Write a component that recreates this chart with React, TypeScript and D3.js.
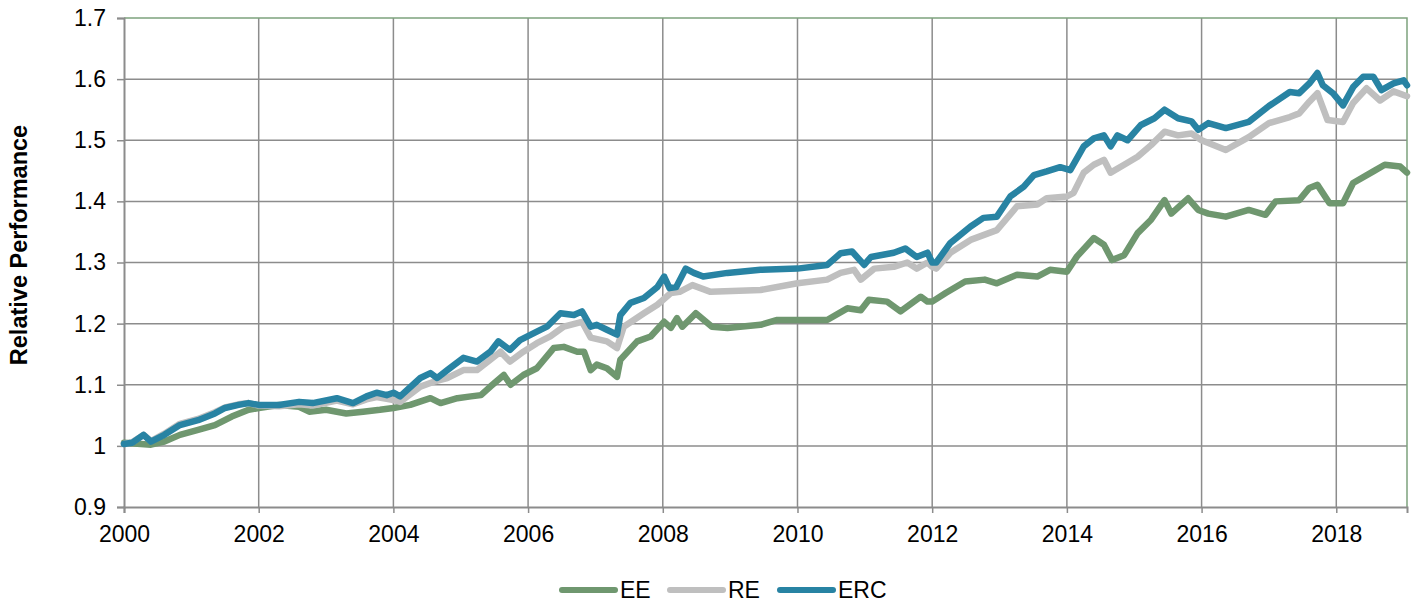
import { useEffect, useRef } from 'react';
import * as d3 from 'd3';

// Relative performance of three allocation schemes
const eeSeries: [number, number][] = [
  [2000.0, 1.005], [2000.4, 1.002], [2000.6, 1.007], [2000.83, 1.018], [2001.1, 1.026],
  [2001.35, 1.034], [2001.6, 1.048], [2001.85, 1.059], [2002.0, 1.062], [2002.3, 1.067],
  [2002.6, 1.064], [2002.75, 1.056], [2003.0, 1.059], [2003.3, 1.053], [2003.55, 1.056],
  [2003.8, 1.059], [2004.0, 1.062], [2004.25, 1.067], [2004.55, 1.078], [2004.7, 1.07],
  [2004.95, 1.078], [2005.15, 1.081], [2005.3, 1.083], [2005.44, 1.097], [2005.64, 1.116],
  [2005.74, 1.1], [2005.93, 1.116], [2006.13, 1.127], [2006.38, 1.16], [2006.53, 1.162],
  [2006.73, 1.154], [2006.83, 1.154], [2006.93, 1.124], [2007.02, 1.133], [2007.17, 1.127],
  [2007.32, 1.113], [2007.37, 1.141], [2007.62, 1.171], [2007.82, 1.179], [2008.02, 1.203],
  [2008.12, 1.193], [2008.21, 1.209], [2008.29, 1.195], [2008.49, 1.217], [2008.73, 1.195],
  [2008.96, 1.193], [2009.45, 1.198], [2009.7, 1.206], [2010.0, 1.206], [2010.44, 1.206],
  [2010.74, 1.225], [2010.94, 1.222], [2011.06, 1.239], [2011.33, 1.236], [2011.53, 1.22],
  [2011.83, 1.244], [2011.93, 1.236], [2012.0, 1.236], [2012.2, 1.25], [2012.49, 1.269],
  [2012.78, 1.272], [2012.96, 1.266], [2013.26, 1.28], [2013.56, 1.277], [2013.75, 1.288],
  [2014.0, 1.285], [2014.15, 1.31], [2014.4, 1.34], [2014.55, 1.329], [2014.67, 1.304],
  [2014.85, 1.312], [2015.05, 1.348], [2015.25, 1.37], [2015.45, 1.402], [2015.55, 1.38],
  [2015.8, 1.405], [2015.95, 1.386], [2016.1, 1.38], [2016.36, 1.375], [2016.7, 1.386],
  [2016.95, 1.378], [2017.1, 1.4], [2017.45, 1.402], [2017.6, 1.422], [2017.72, 1.427],
  [2017.9, 1.397], [2018.1, 1.397], [2018.25, 1.43], [2018.55, 1.449], [2018.72, 1.46],
  [2018.95, 1.457], [2019.05, 1.447],
];

const reSeries: [number, number][] = [
  [2000.0, 1.003], [2000.12, 1.006], [2000.29, 1.018], [2000.4, 1.008], [2000.6, 1.02],
  [2000.83, 1.036], [2001.1, 1.044], [2001.35, 1.055], [2001.5, 1.063], [2001.7, 1.068],
  [2001.85, 1.07], [2002.0, 1.066], [2002.3, 1.065], [2002.6, 1.068], [2002.8, 1.066],
  [2003.16, 1.074], [2003.4, 1.068], [2003.6, 1.076], [2003.75, 1.08], [2003.9, 1.077],
  [2004.0, 1.075], [2004.1, 1.072], [2004.4, 1.097], [2004.6, 1.105], [2004.8, 1.111],
  [2005.04, 1.124], [2005.24, 1.124], [2005.44, 1.141], [2005.59, 1.154], [2005.73, 1.138],
  [2005.93, 1.154], [2006.13, 1.168], [2006.33, 1.179], [2006.53, 1.195], [2006.8, 1.203],
  [2006.93, 1.177], [2007.17, 1.171], [2007.32, 1.16], [2007.42, 1.195], [2007.72, 1.217],
  [2007.92, 1.231], [2008.12, 1.25], [2008.25, 1.252], [2008.44, 1.263], [2008.71, 1.252],
  [2009.45, 1.255], [2010.0, 1.266], [2010.44, 1.272], [2010.64, 1.283], [2010.84, 1.288],
  [2010.94, 1.272], [2011.14, 1.29], [2011.43, 1.293], [2011.63, 1.3], [2011.77, 1.29],
  [2011.93, 1.3], [2012.0, 1.293], [2012.06, 1.29], [2012.27, 1.316], [2012.57, 1.337],
  [2012.96, 1.353], [2013.26, 1.392], [2013.56, 1.395], [2013.7, 1.405], [2014.0, 1.408],
  [2014.1, 1.414], [2014.25, 1.447], [2014.4, 1.46], [2014.55, 1.468], [2014.65, 1.447],
  [2014.85, 1.46], [2015.05, 1.473], [2015.25, 1.492], [2015.45, 1.514], [2015.65, 1.508],
  [2015.85, 1.511], [2016.0, 1.5], [2016.36, 1.484], [2016.7, 1.505], [2017.0, 1.528],
  [2017.31, 1.538], [2017.45, 1.544], [2017.6, 1.563], [2017.72, 1.577], [2017.87, 1.533],
  [2018.1, 1.53], [2018.25, 1.561], [2018.45, 1.585], [2018.65, 1.565], [2018.85, 1.58],
  [2019.05, 1.572],
];

const ercSeries: [number, number][] = [
  [2000.0, 1.003], [2000.12, 1.005], [2000.29, 1.018], [2000.4, 1.007], [2000.6, 1.018],
  [2000.83, 1.034], [2001.1, 1.042], [2001.35, 1.053], [2001.5, 1.062], [2001.7, 1.067],
  [2001.85, 1.07], [2002.0, 1.067], [2002.3, 1.067], [2002.6, 1.072], [2002.8, 1.07],
  [2003.16, 1.078], [2003.4, 1.07], [2003.6, 1.081], [2003.75, 1.087], [2003.9, 1.083],
  [2004.0, 1.087], [2004.1, 1.081], [2004.4, 1.111], [2004.55, 1.119], [2004.65, 1.111],
  [2004.8, 1.124], [2005.04, 1.144], [2005.24, 1.138], [2005.44, 1.154], [2005.56, 1.171],
  [2005.73, 1.157], [2005.88, 1.173], [2006.13, 1.187], [2006.28, 1.195], [2006.48, 1.217],
  [2006.68, 1.214], [2006.8, 1.22], [2006.93, 1.195], [2007.02, 1.198], [2007.17, 1.19],
  [2007.32, 1.182], [2007.37, 1.214], [2007.52, 1.234], [2007.72, 1.242], [2007.92, 1.26],
  [2008.02, 1.277], [2008.1, 1.258], [2008.2, 1.26], [2008.34, 1.29], [2008.46, 1.283],
  [2008.6, 1.277], [2008.96, 1.283], [2009.45, 1.288], [2010.0, 1.29], [2010.44, 1.296],
  [2010.64, 1.315], [2010.81, 1.318], [2010.99, 1.296], [2011.09, 1.309], [2011.43, 1.316],
  [2011.6, 1.323], [2011.77, 1.309], [2011.93, 1.316], [2012.0, 1.3], [2012.06, 1.3],
  [2012.27, 1.332], [2012.57, 1.359], [2012.76, 1.373], [2012.96, 1.375], [2013.16, 1.408],
  [2013.36, 1.424], [2013.51, 1.443], [2013.7, 1.449], [2013.9, 1.456], [2014.05, 1.451],
  [2014.25, 1.49], [2014.4, 1.503], [2014.55, 1.508], [2014.65, 1.49], [2014.75, 1.508],
  [2014.9, 1.5], [2015.1, 1.525], [2015.3, 1.536], [2015.45, 1.55], [2015.65, 1.536],
  [2015.85, 1.531], [2015.95, 1.517], [2016.1, 1.528], [2016.36, 1.52], [2016.7, 1.53],
  [2017.0, 1.556], [2017.31, 1.579], [2017.45, 1.577], [2017.6, 1.593], [2017.72, 1.61],
  [2017.8, 1.59], [2017.95, 1.577], [2018.1, 1.557], [2018.25, 1.587], [2018.4, 1.604],
  [2018.55, 1.604], [2018.67, 1.582], [2018.85, 1.593], [2019.0, 1.598], [2019.05, 1.59],
];

const seriesNames = ['EE', 'RE', 'ERC'];
const seriesColors = ['#6f976f', '#bfbfbf', '#2883a3'];
const xTicks = [2000, 2002, 2004, 2006, 2008, 2010, 2012, 2014, 2016, 2018];
const yTicks = [0.9, 1.0, 1.1, 1.2, 1.3, 1.4, 1.5, 1.6, 1.7];

const App = () => {
  const svgRef = useRef<SVGSVGElement>(null);

  useEffect(() => {
    const svg = d3.select(svgRef.current);
    svg.selectAll('*').remove();

    const left = 124;
    const top = 18;
    const right = 1407;
    const bottom = 507;
    const font = 'Liberation Sans, Arial, sans-serif';

    const x = d3.scaleLinear().domain([2000, 2019.05]).range([left, right]);
    const y = d3.scaleLinear().domain([0.9, 1.7]).range([bottom, top]);

    // Gridlines
    svg.append('g')
      .selectAll('line')
      .data(xTicks.slice(1))
      .join('line')
      .attr('x1', (d) => x(d))
      .attr('x2', (d) => x(d))
      .attr('y1', top)
      .attr('y2', bottom)
      .attr('stroke', '#8c8c8c')
      .attr('stroke-width', 1.5);

    svg.append('g')
      .selectAll('line')
      .data(yTicks.slice(1, -1))
      .join('line')
      .attr('x1', left)
      .attr('x2', right)
      .attr('y1', (d) => y(d))
      .attr('y2', (d) => y(d))
      .attr('stroke', '#8c8c8c')
      .attr('stroke-width', 1.5);

    // Top and right frame
    svg.append('path')
      .attr('d', `M${left},${top}H${right}V${bottom}`)
      .attr('fill', 'none')
      .attr('stroke', '#7da27d')
      .attr('stroke-width', 1.5);

    // Axes
    const xAxis = d3.axisBottom(x).tickValues(xTicks).tickSize(6).tickPadding(13)
      .tickFormat(d3.format('d'));
    const gx = svg.append('g').attr('transform', `translate(0,${bottom})`).call(xAxis);
    const yAxis = d3.axisLeft(y).tickValues(yTicks).tickSize(7).tickPadding(11)
      .tickFormat((d) => String(+d));
    const gy = svg.append('g').attr('transform', `translate(${left},0)`).call(yAxis);

    [gx, gy].forEach((g) => {
      g.attr('font-size', 23).attr('font-family', font);
      g.select('.domain').attr('stroke', '#8c8c8c').attr('stroke-width', 2);
      g.selectAll('.tick line').attr('stroke', '#8c8c8c').attr('stroke-width', 1.5);
      g.selectAll('.tick text')
        .attr('fill', '#000')
        .attr('font-size', '23px')
        .attr('font-family', font);
    });

    // Series lines
    const line = d3.line<[number, number]>()
      .x((d) => x(d[0]))
      .y((d) => y(d[1]));

    [eeSeries, reSeries, ercSeries].forEach((s, i) => {
      svg.append('path')
        .datum(s)
        .attr('fill', 'none')
        .attr('stroke', seriesColors[i])
        .attr('stroke-width', 6.5)
        .attr('stroke-linejoin', 'round')
        .attr('stroke-linecap', 'round')
        .attr('d', line);
    });

    // Y title
    svg.append('text')
      .attr('transform', `translate(27,245) rotate(-90)`)
      .attr('text-anchor', 'middle')
      .attr('font-size', '23.5px')
      .attr('font-weight', 'bold')
      .attr('font-family', font)
      .attr('fill', '#000')
      .text('Relative Performance');

    // Legend
    const legendX = [560, 668, 778];
    seriesNames.forEach((name, i) => {
      const g = svg.append('g').attr('transform', `translate(${legendX[i]},590)`);
      g.append('line')
        .attr('x1', 2)
        .attr('x2', 55)
        .attr('stroke', seriesColors[i])
        .attr('stroke-width', 6)
        .attr('stroke-linecap', 'round');
      g.append('text')
        .attr('x', 60)
        .attr('y', 8)
        .attr('font-size', '23px')
        .attr('font-family', font)
        .attr('fill', '#000')
        .text(name);
    });
  }, []);

  return (
    <div style={{ position: 'absolute', left: 0, top: 0 }}>
      <svg ref={svgRef} width={1413} height={603} style={{ display: 'block', background: '#fff' }} />
    </div>
  );
};

export default App;
